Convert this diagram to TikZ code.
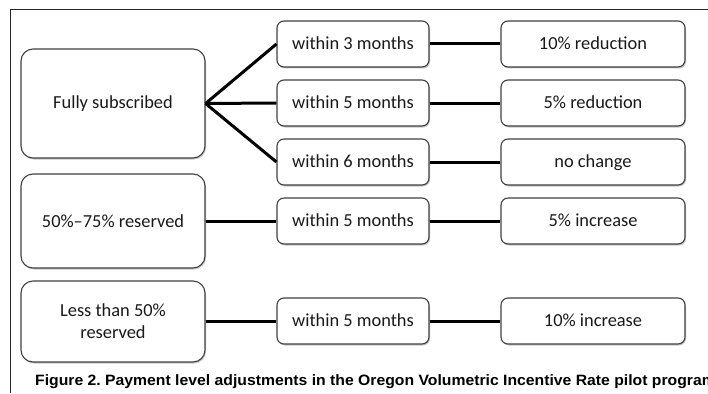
\documentclass[tikz,border=0pt]{standalone}
\usepackage{fontspec}
\setmainfont{Carlito}
\newfontfamily\capfont{Liberation Sans}
\usetikzlibrary{shadows}
\frenchspacing
\tikzset{
  box/.style={draw=black!75, line width=1.1pt, fill=white, align=center,
    font=\fontsize{18.4}{22}\selectfont, text=black!90,
    drop shadow={shadow xshift=1pt, shadow yshift=-1.5pt, fill=black!45, opacity=0.5}},
  bigbox/.style={box, rounded corners=12pt, minimum width=184pt},
  smallbox/.style={box, rounded corners=7pt, minimum height=46pt, text height=15pt, text depth=4pt},
  midbox/.style={smallbox, minimum width=152pt},
  resbox/.style={smallbox, minimum width=184pt},
  link/.style={line width=3pt, black, line join=round},
  frameline/.style={line width=0.9pt, black!85}
}
\begin{document}
\begin{tikzpicture}[x=1pt, y=-1pt]
\useasboundingbox (0,0) rectangle (708,393);
\begin{scope}
\clip (0,0) rectangle (708,393);
\coordinate (ftl) at (10,9);
\coordinate (ftr) at (708,9);
\coordinate (fbl) at (10,393);
\draw[frameline] (ftr) -- (ftl) -- (fbl);

\node[bigbox, minimum height=109pt] (full) at (113,103.5) {Fully subscribed};
\node[bigbox, minimum height=94pt] (mid) at (113,221) {50\%–75\% reserved};
\node[bigbox, minimum height=81pt] (low) at (113,321.5) {Less than 50\%\\reserved};

\node[midbox] (w3) at (353,44) {within 3 months};
\node[midbox] (w5a) at (353,103) {within 5 months};
\node[midbox] (w6) at (353,162) {within 6 months};
\node[midbox] (w5b) at (353,221) {within 5 months};
\node[midbox] (w5c) at (353,321) {within 5 months};

\node[resbox] (r1) at (593,44) {10\% reduction};
\node[resbox] (r2) at (593,103) {5\% reduction};
\node[resbox] (r3) at (593,162) {no change};
\node[resbox] (r4) at (593,221) {5\% increase};
\node[resbox] (r5) at (593,321) {10\% increase};

\draw[link] (full.east) -- (w3.west);
\draw[link] (full.east) -- (w5a.west);
\draw[link] (full.east) -- (w6.west);
\draw[link] (mid.east) -- (w5b.west);
\draw[link] (low.east |- w5c.west) -- (w5c.west);
\draw[link] (w3) -- (r1);
\draw[link] (w5a) -- (r2);
\draw[link] (w6) -- (r3);
\draw[link] (w5b) -- (r4);
\draw[link] (w5c) -- (r5);

\node[anchor=base west, inner sep=0pt, xscale=1.05, font=\capfont\bfseries\fontsize{15}{18}\selectfont] (cap) at (35,385)
  {Figure 2. Payment level adjustments in the Oregon Volumetric Incentive Rate pilot program};
\end{scope}
\end{tikzpicture}
\end{document}
